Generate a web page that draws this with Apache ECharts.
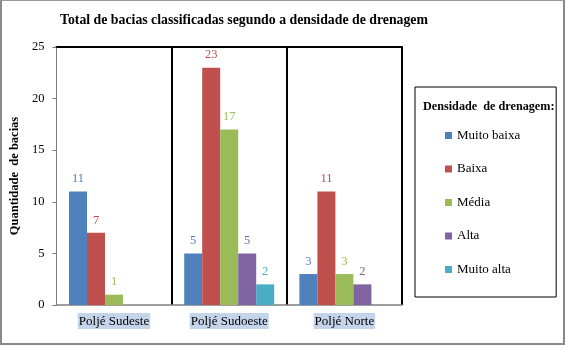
<!DOCTYPE html>
<html><head><meta charset="utf-8">
<script src="https://cdn.jsdelivr.net/npm/echarts@6/dist/echarts.min.js"></script>
<style>
html,body{margin:0;padding:0;background:#fff;}
#wrap{position:relative;width:565px;height:345px;}
#c{width:565px;height:345px;}
#frame{position:absolute;left:0;top:0;width:565px;height:345px;box-sizing:border-box;border:2px solid #8a8a8a;border-top:1px solid #9a9a9a;pointer-events:none;}
</style></head>
<body><div id="wrap"><div id="c"></div><div id="frame"></div></div>
<script>
const categories = ['Poljé Sudeste', 'Poljé Sudoeste', 'Poljé Norte'];
const seriesNames = ['Muito baixa', 'Baixa', 'Média', 'Alta', 'Muito alta'];
const muitoBaixa = [11, 5, 3];
const baixa = [7, 23, 11];
const media = [1, 17, 3];
const alta = [0, 5, 2];
const muitoAlta = [0, 2, 0];
const yTicks = [0, 5, 10, 15, 20, 25];
const colors = ['#4F81BD', '#C0504D', '#9BBB59', '#8064A2', '#4BACC6'];
const values = [muitoBaixa, baixa, media, alta, muitoAlta];
const FONT = 'Liberation Serif';

const chart = echarts.init(document.getElementById('c'));
chart.setOption({
  animation: false,
  textStyle: {fontFamily: FONT},
  title: [
    {text: 'Total de bacias classificadas segundo a densidade de drenagem', left: 55, top: 8,
     textStyle: {fontFamily: FONT, fontSize: 13.8, fontWeight: 'bold', color: '#000'}},
    {text: 'Densidade  de drenagem:', left: 418, top: 96,
     textStyle: {fontFamily: FONT, fontSize: 12.2, fontWeight: 'bold', color: '#000'}}
  ],
  legend: {
    orient: 'vertical', left: 415, top: 87,
    padding: [42, 36, 21, 30],
    borderColor: '#000', borderWidth: 1,
    itemWidth: 7, itemHeight: 7, itemGap: 20.5,
    icon: 'rect',
    formatter: '{t|{name}}',
    textStyle: {fontFamily: FONT, fontSize: 13, color: '#000',
      rich: {t: {fontFamily: FONT, fontSize: 13, color: '#000'}}},
    data: seriesNames
  },
  grid: {left: 50, right: 163, top: 47, bottom: 40, show: false},
  xAxis: [
    {type: 'category', data: categories, position: 'bottom',
     axisLine: {lineStyle: {color: '#7f7f7f', width: 1.5}},
     axisTick: {show: false},
     splitLine: {show: true, showMinLine: false, lineStyle: {color: '#000', width: 2}},
     axisLabel: {margin: 8, formatter: '{t|{value}}',
       rich: {t: {fontFamily: FONT, fontSize: 13, color: '#000',
         backgroundColor: '#C4D4EA', padding: [2, 1, 1, 1]}}}},
    {type: 'category', data: categories, position: 'top',
     axisLine: {lineStyle: {color: '#000', width: 2}},
     axisTick: {show: false}, axisLabel: {show: false}, splitLine: {show: false}}
  ],
  yAxis: {
    type: 'value', min: yTicks[0], max: yTicks[yTicks.length - 1], interval: 5,
    name: 'Quantidade  de bacias', nameLocation: 'middle', nameGap: 29, nameRotate: 90,
    nameTextStyle: {fontFamily: FONT, fontSize: 12.5, fontWeight: 'bold', color: '#000'},
    axisLine: {show: true, lineStyle: {color: '#7f7f7f', width: 1}},
    axisTick: {show: true, length: 4, lineStyle: {color: '#7f7f7f'}},
    splitLine: {show: false},
    axisLabel: {fontFamily: FONT, fontSize: 12.5, color: '#000', margin: 12}
  },
  series: seriesNames.map((n, i) => ({
    name: n, type: 'bar', xAxisIndex: 0, data: values[i],
    barWidth: 18, barGap: '0%',
    itemStyle: {color: colors[i]},
    label: {show: true, position: 'top', distance: 6, color: colors[i],
      fontFamily: FONT, fontSize: 12.5,
      formatter: p => (p.value === 0 ? '' : String(p.value))}
  }))
});
</script></body></html>
